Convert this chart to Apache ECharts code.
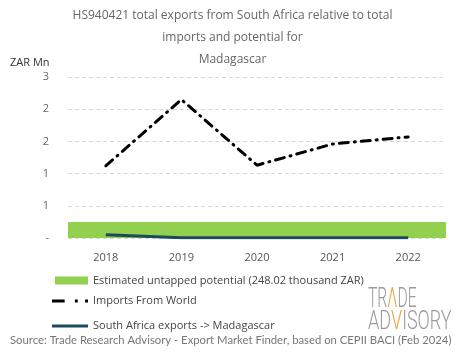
<!DOCTYPE html>
<html>
<head>
<meta charset="utf-8">
<script src="https://cdn.jsdelivr.net/npm/echarts@6/dist/echarts.min.js"></script>
<style>html,body{margin:0;padding:0;background:#fff}#c{width:465px;height:359px}</style>
</head>
<body>
<div id="c"></div>
<script>
var years = ['2018', '2019', '2020', '2021', '2022'];
var importsWorld = [1.12, 2.15, 1.13, 1.46, 1.57];
var saExports = [0.05, 0.005, 0.002, 0.002, 0.002];
var potential = [0.24802];
var yTicks = [0, 0.5, 1, 1.5, 2, 2.5];

var FONT = 'Lato';
var WFONT = 'Open Sans';
var NAME_POT = 'Estimated untapped potential (248.02 thousand ZAR)';
var NAME_IMP = 'Imports From World';
var NAME_SA = 'South Africa exports -> Madagascar';
var chart = echarts.init(document.getElementById('c'));
chart.setOption({
  animation: false,
  textStyle: { fontFamily: FONT },
  title: {
    text: 'HS940421 total exports from South Africa relative to total\nimports and potential for\nMadagascar',
    left: 'center', top: 0,
    textStyle: { fontFamily: WFONT, fontSize: 12, fontWeight: 'normal', color: '#666', lineHeight: 22 }
  },
  grid: { left: 68, right: 19, top: 77, bottom: 121 },
  xAxis: {
    type: 'category', data: years, boundaryGap: true,
    axisLine: { show: false }, axisTick: { show: false },
    axisLabel: { color: '#555', fontSize: 11, margin: 14, fontFamily: WFONT }
  },
  yAxis: {
    type: 'value', min: yTicks[0], max: yTicks[yTicks.length - 1], interval: 0.5,
    axisLine: { show: false }, axisTick: { show: false },
    axisLabel: { color: '#666', fontSize: 11, margin: 19, fontFamily: WFONT,
      formatter: function (v) { return v === 0 ? '-' : String(Math.round(v)); } },
    splitLine: { lineStyle: { color: '#d9d9d9', type: [4, 3], width: 1 } }
  },
  legend: [
    {
      orient: 'vertical', left: 50, top: 270, itemWidth: 33, itemHeight: 8,
      textStyle: { color: '#444', fontSize: 11, fontFamily: WFONT },
      data: [{ name: NAME_POT, icon: 'rect', itemStyle: { color: '#92d050' } }]
    },
    {
      orient: 'vertical', left: 47, top: 289, itemWidth: 36, itemHeight: 3, itemGap: 11,
      textStyle: { color: '#444', fontSize: 11, fontFamily: WFONT, lineHeight: 14 },
      data: [
        { name: NAME_IMP, icon: 'path://M0,0h13v3h-13z M23.5,0h3v3h-3z M34,0h3v3h-3z' },
        { name: NAME_SA, icon: 'rect' }
      ]
    }
  ],
  series: [
    {
      name: NAME_POT, type: 'line', data: [],
      itemStyle: { color: '#92d050' },
      markArea: { silent: true, itemStyle: { color: '#92d050', opacity: 1 },
        data: [[{ yAxis: 0 }, { yAxis: potential[0] }]] }
    },
    {
      name: NAME_IMP, type: 'line', data: importsWorld, symbol: 'none', z: 3,
      itemStyle: { color: '#000' },
      lineStyle: { color: '#000', width: 3, type: [9, 6, 1, 6], cap: 'round' }
    },
    {
      name: NAME_SA, type: 'line', data: saExports, symbol: 'none', z: 3,
      itemStyle: { color: '#1b4a5c' },
      lineStyle: { color: '#1b4a5c', width: 3 }
    }
  ],
  graphic: [
    { type: 'text', left: 10, top: 57,
      style: { text: 'ZAR Mn', fill: '#333', fontSize: 11, fontFamily: WFONT } },
    { type: 'text', left: 10, top: 335,
      style: { text: 'Source: Trade Research Advisory - Export Market Finder, based on CEPII BACI (Feb 2024)',
        fill: '#777', fontSize: 11.3, fontFamily: FONT } },
    { type: 'text', x: 368, y: 286, scaleX: 0.56,
      style: { rich: { g: { fill: '#9a9a9a', fontSize: 28, fontFamily: 'Roboto', fontWeight: 300 },
                       o: { fill: '#f0a030', fontSize: 28, fontFamily: 'Roboto', fontWeight: 300 } },
        text: '{g|TR}{o|Λ}{g|DE}' } },
    { type: 'text', x: 368, y: 310, scaleX: 0.72,
      style: { rich: { g: { fill: '#9a9a9a', fontSize: 25, fontFamily: 'Roboto', fontWeight: 300 },
                       o: { fill: '#f0a030', fontSize: 25, fontFamily: 'Roboto', fontWeight: 300 } },
        text: '{g|AD}{o|V}{g|ISORY}' } }
  ]
});
</script>
</body>
</html>
